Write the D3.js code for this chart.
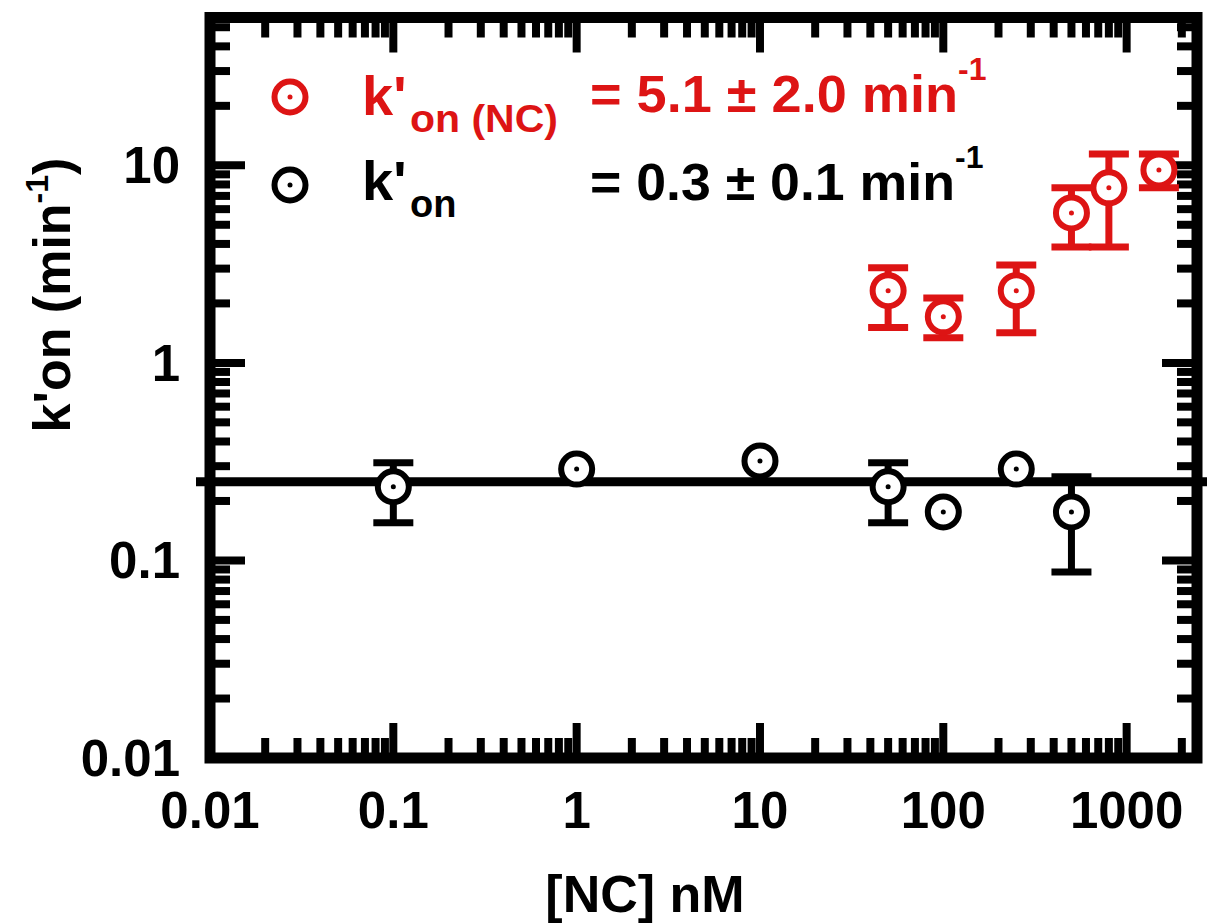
<!DOCTYPE html>
<html>
<head>
<meta charset="utf-8">
<script src="https://cdn.jsdelivr.net/npm/d3@7"></script>
<style>
  html, body { margin: 0; padding: 0; background: #fff; }
  svg { display: block; font-family: "Liberation Sans", Arial, sans-serif; font-weight: bold; }
</style>
</head>
<body>
<svg id="chart" width="1207" height="924"></svg>
<script>
// Concentration of NC (nM) and rate constants k'on (min^-1)
const blackX   = [0.1, 1, 10, 50, 100, 250, 500];
const blackY   = [0.236, 0.290, 0.319, 0.236, 0.176, 0.290, 0.176];
const blackHi  = [0.312, null, null, 0.312, null, null, 0.265];
const blackLo  = [0.155, null, null, 0.155, null, null, 0.0875];

const redX  = [50, 100, 250, 500, 800, 1500];
const redY  = [2.32, 1.71, 2.32, 5.74, 7.69, 9.48];
const redHi = [3.03, 2.13, 3.13, 7.69, 11.4, 11.4];
const redLo = [1.51, 1.34, 1.42, 3.86, 3.86, 7.69];

// mean k'on without NC (horizontal reference line)
const fitBlack = 0.25;

const xTickLabels = ["0.01", "0.1", "1", "10", "100", "1000"];
const yTickLabels = ["0.01", "0.1", "1", "10"];

const RED = "#dd1414";
const BLACK = "#000";

const svg = d3.select("#chart");
const pLeft = 210, pRight = 1197, pTop = 17.5, pBottom = 758;

const x = d3.scaleLog().domain([0.01, 2420]).range([pLeft, pRight]);
const y = d3.scaleLog().domain([0.01, 56]).range([pBottom, pTop]);

// minor / major tick values
function logTicks(lo, hi) {
  const major = [], minor = [];
  for (let e = -3; e <= 4; e++) {
    for (let m = 1; m <= 9; m++) {
      const v = m * Math.pow(10, e);
      if (v < lo * 0.999 || v > hi * 1.001) continue;
      (m === 1 ? major : minor).push(+v.toPrecision(3));
    }
  }
  return { major, minor };
}
const xt = logTicks(0.01, 2420);
const yt = logTicks(0.01, 56);

const frameW = 11, tickW = 8, majorLen = 35, minorLen = 20;
const g = svg.append("g");

// fit line (drawn first so the markers sit on top)
g.append("line")
  .attr("x1", 196).attr("x2", 1207)
  .attr("y1", y(fitBlack)).attr("y2", y(fitBlack))
  .attr("stroke", BLACK).attr("stroke-width", 9);

// ticks on all four sides, pointing inward
const tickG = g.append("g").attr("stroke", BLACK).attr("stroke-width", tickW);
function drawXTicks(vals, len) {
  vals.filter(v => x(v) > pLeft + 6 && x(v) < pRight - 6).forEach(v => {
    tickG.append("line").attr("x1", x(v)).attr("x2", x(v)).attr("y1", pBottom).attr("y2", pBottom - len);
    tickG.append("line").attr("x1", x(v)).attr("x2", x(v)).attr("y1", pTop).attr("y2", pTop + len);
  });
}
function drawYTicks(vals, len) {
  vals.filter(v => y(v) < pBottom - 6 && y(v) > pTop + 6).forEach(v => {
    tickG.append("line").attr("y1", y(v)).attr("y2", y(v)).attr("x1", pLeft).attr("x2", pLeft + len);
    tickG.append("line").attr("y1", y(v)).attr("y2", y(v)).attr("x1", pRight).attr("x2", pRight - len);
  });
}
drawXTicks(xt.minor, minorLen);
drawXTicks(xt.major, majorLen);
drawYTicks(yt.minor, minorLen);
drawYTicks(yt.major, majorLen);

// frame
g.append("rect")
  .attr("x", pLeft).attr("y", pTop)
  .attr("width", pRight - pLeft).attr("height", pBottom - pTop)
  .attr("fill", "none").attr("stroke", BLACK).attr("stroke-width", frameW);

// tick labels
const xLabelG = g.append("g").attr("font-size", 51).attr("text-anchor", "middle").attr("fill", BLACK);
xTickLabels.forEach(t => {
  xLabelG.append("text").attr("x", x(+t)).attr("y", 828).text(t);
});
const yLabelG = g.append("g").attr("font-size", 51).attr("text-anchor", "end").attr("fill", BLACK);
yTickLabels.forEach(t => {
  yLabelG.append("text").attr("x", 180).attr("y", y(+t) + 18).text(t);
});

// axis titles
g.append("text").attr("x", 645).attr("y", 912).attr("font-size", 52)
  .attr("text-anchor", "middle").text("[NC] nM");

const yTitle = g.append("text")
  .attr("transform", "translate(70,295) rotate(-90)")
  .attr("font-size", 52).attr("text-anchor", "middle");
yTitle.append("tspan").text("k'on (min");
yTitle.append("tspan").attr("font-size", 32).attr("dy", -22).text("-1");
yTitle.append("tspan").attr("dy", 22).text(")");

// error bars + markers
function series(xs, ys, his, los, color) {
  const sg = g.append("g");
  xs.forEach((xv, i) => {
    if (his[i] == null) return;
    const cx = x(xv);
    sg.append("line").attr("x1", cx).attr("x2", cx).attr("y1", y(his[i])).attr("y2", y(los[i]))
      .attr("stroke", color).attr("stroke-width", 7);
    [his[i], los[i]].forEach(v => {
      sg.append("line").attr("x1", cx - 20).attr("x2", cx + 20).attr("y1", y(v)).attr("y2", y(v))
        .attr("stroke", color).attr("stroke-width", 7);
    });
  });
  xs.forEach((xv, i) => marker(sg, x(xv), y(ys[i]), color));
}
function marker(sel, cx, cy, color) {
  sel.append("circle").attr("cx", cx).attr("cy", cy).attr("r", 15.5)
    .attr("fill", "#fff").attr("stroke", color).attr("stroke-width", 6);
  sel.append("circle").attr("cx", cx).attr("cy", cy).attr("r", 2.5).attr("fill", color);
}
series(blackX, blackY, blackHi, blackLo, BLACK);
series(redX, redY, redHi, redLo, RED);

// legend
const legend = g.append("g");
marker(legend, 290, 97, RED);
marker(legend, 290, 185, BLACK);

const l1 = legend.append("text").attr("x", 362).attr("y", 115).attr("fill", RED).attr("font-size", 56);
l1.append("tspan").text("k'");
l1.append("tspan").attr("font-size", 38).attr("dy", 17).attr("x", 410)
  .attr("textLength", 148).attr("lengthAdjust", "spacingAndGlyphs").text("on (NC)");
const e1 = legend.append("text").attr("x", 590).attr("y", 112).attr("fill", RED).attr("font-size", 52);
e1.append("tspan").attr("textLength", 368).attr("lengthAdjust", "spacingAndGlyphs").text("= 5.1 ± 2.0 min");
e1.append("tspan").attr("font-size", 32).attr("dy", -32).text("-1");

const l2 = legend.append("text").attr("x", 362).attr("y", 200).attr("fill", BLACK).attr("font-size", 56);
l2.append("tspan").text("k'");
l2.append("tspan").attr("font-size", 38).attr("dy", 17).attr("x", 410).text("on");
const e2 = legend.append("text").attr("x", 590).attr("y", 200).attr("fill", BLACK).attr("font-size", 52);
e2.append("tspan").attr("textLength", 365).attr("lengthAdjust", "spacingAndGlyphs").text("= 0.3 ± 0.1 min");
e2.append("tspan").attr("font-size", 32).attr("dy", -32).text("-1");
</script>
</body>
</html>
